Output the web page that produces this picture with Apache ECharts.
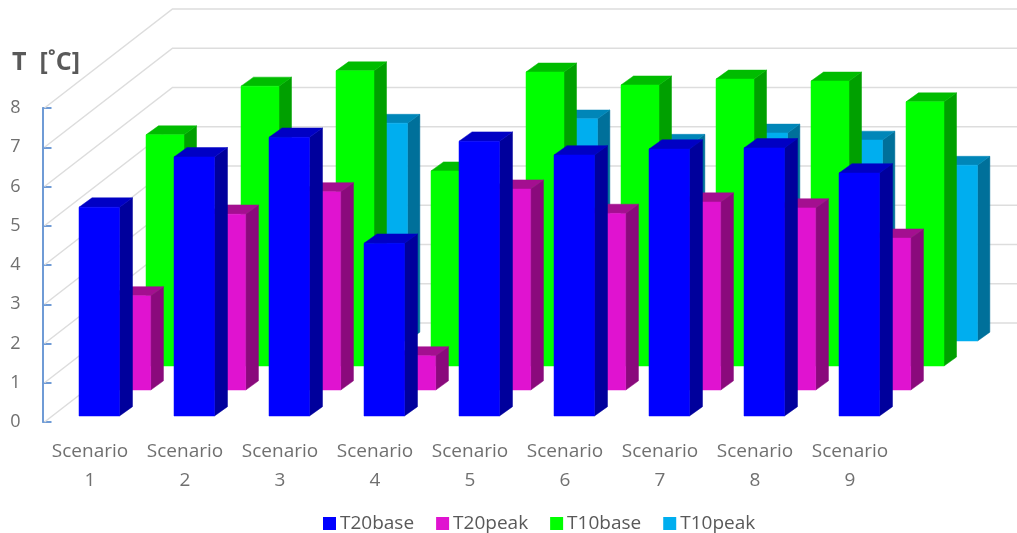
<!DOCTYPE html>
<html>
<head>
<meta charset="utf-8">
<style>html,body{margin:0;padding:0;background:#fff}#chart{width:1017px;height:533px}</style>
<script src="https://cdn.jsdelivr.net/npm/echarts@6/dist/echarts.min.js"></script>
</head>
<body>
<div id="chart"></div>
<script>
const categories = ['Scenario\n1','Scenario\n2','Scenario\n3','Scenario\n4','Scenario\n5','Scenario\n6','Scenario\n7','Scenario\n8','Scenario\n9'];
const yTicks = [0,1,2,3,4,5,6,7,8];
const t20base = [5.32,6.6,7.1,4.4,7.0,6.65,6.8,6.83,6.19];
const t20peak = [2.4,4.48,5.05,0.87,5.12,4.5,4.79,4.64,3.87];
const t10base = [5.89,7.13,7.52,4.97,7.49,7.16,7.31,7.26,6.73];
const t10peak = [2.9,3.5,5.55,3.5,5.66,5.04,5.3,5.12,4.48];

// Oblique projection of the floor depth: full wall offset in pixels
const WALL_DX = 128, WALL_DY = -99;

// One row of boxes; shift moves the row back along the floor diagonal
function boxSeries(name, values, z, shiftX, baseLift, widthFrac, depth, front, side, top) {
  return {
    name, type: 'custom', z,
    itemStyle: { color: front },
    encode: { x: 0, y: 1 },
    data: values.map((v, i) => [i, v]),
    renderItem(params, api) {
      const i = api.value(0), v = api.value(1);
      const band = api.size([1, 0])[0];
      const w = band * widthFrac;
      const base = api.coord([i, 0]);
      const head = api.coord([i, v]);
      const x0 = base[0] + shiftX - w / 2, x1 = x0 + w;
      const yb = base[1] - baseLift, yt = head[1] - baseLift;
      const dx = depth, dy = -depth * 0.72;
      const poly = (points, fill) => ({
        type: 'polygon', shape: { points },
        style: { fill, stroke: fill, lineWidth: 0.5 }
      });
      return {
        type: 'group',
        children: [
          poly([[x1, yb], [x1 + dx, yb + dy], [x1 + dx, yt + dy], [x1, yt]], side),
          poly([[x0, yt], [x1, yt], [x1 + dx, yt + dy], [x0 + dx, yt + dy]], top),
          poly([[x0, yb], [x1, yb], [x1, yt], [x0, yt]], front)
        ]
      };
    }
  };
}

const chart = echarts.init(document.getElementById('chart'), null, { renderer: 'canvas' });
chart.setOption({
  animation: false,
  backgroundColor: '#fff',
  textStyle: { fontFamily: '"Open Sans"' },
  title: {
    text: 'T  [˚C]', left: 7, top: 45,
    textStyle: { color: '#595959', fontSize: 25, fontWeight: 'bold', fontFamily: '"Open Sans"' }
  },
  legend: {
    left: 318, top: 509, itemWidth: 13, itemHeight: 13, itemGap: 22,
    icon: 'rect',
    data: ['T20base','T20peak','T10base','T10peak'],
    textStyle: { color: '#595959', fontSize: 19, padding: [0, 0, 0, -1] }
  },
  grid: { left: 42.5, top: 108, width: 855, height: 314 },
  xAxis: {
    type: 'category', data: categories,
    axisLine: { show: false }, axisTick: { show: false },
    axisLabel: { interval: 0, color: '#707070', fontSize: 19, lineHeight: 29, margin: 15 }
  },
  yAxis: {
    type: 'value', min: yTicks[0], max: yTicks[yTicks.length - 1], interval: 1,
    splitLine: { show: false },
    axisLine: { show: true, lineStyle: { color: '#6F9BD6', width: 2 } },
    axisTick: { show: true, inside: true, length: 9, lineStyle: { color: '#6F9BD6', width: 2 } },
    axisLabel: { color: '#707070', fontSize: 18, margin: 22 }
  },
  series: [
    {
      name: 'walls', type: 'custom', z: 1, silent: true,
      encode: { x: 0, y: 1 },
      data: yTicks.map(t => [0, t]),
      renderItem(params, api) {
        const y = api.coord([0, api.value(1)])[1];
        const x = params.coordSys.x + 2;
        return {
          type: 'polyline',
          shape: { points: [[x, y], [x + WALL_DX, y + WALL_DY], [api.getWidth(), y + WALL_DY]] },
          style: { fill: 'none', stroke: '#DDDDDD', lineWidth: 1.5 }
        };
      }
    },
    boxSeries('T20base', t20base, 5, 9.25, 6, 0.426, 13, '#0000FF', '#00009C', '#0000C4'),
    boxSeries('T20peak', t20peak, 4, 41.5, 32, 0.405, 12.7, '#E013D0', '#8A0A7C', '#A40F90'),
    boxSeries('T10base', t10base, 3, 75, 56, 0.4, 12.5, '#00FF00', '#00A000', '#00BC00'),
    boxSeries('T10peak', t10peak, 2, 109.5, 81, 0.38, 12.3, '#00AEEF', '#00709A', '#0086B8')
  ]
});
</script>
</body>
</html>
